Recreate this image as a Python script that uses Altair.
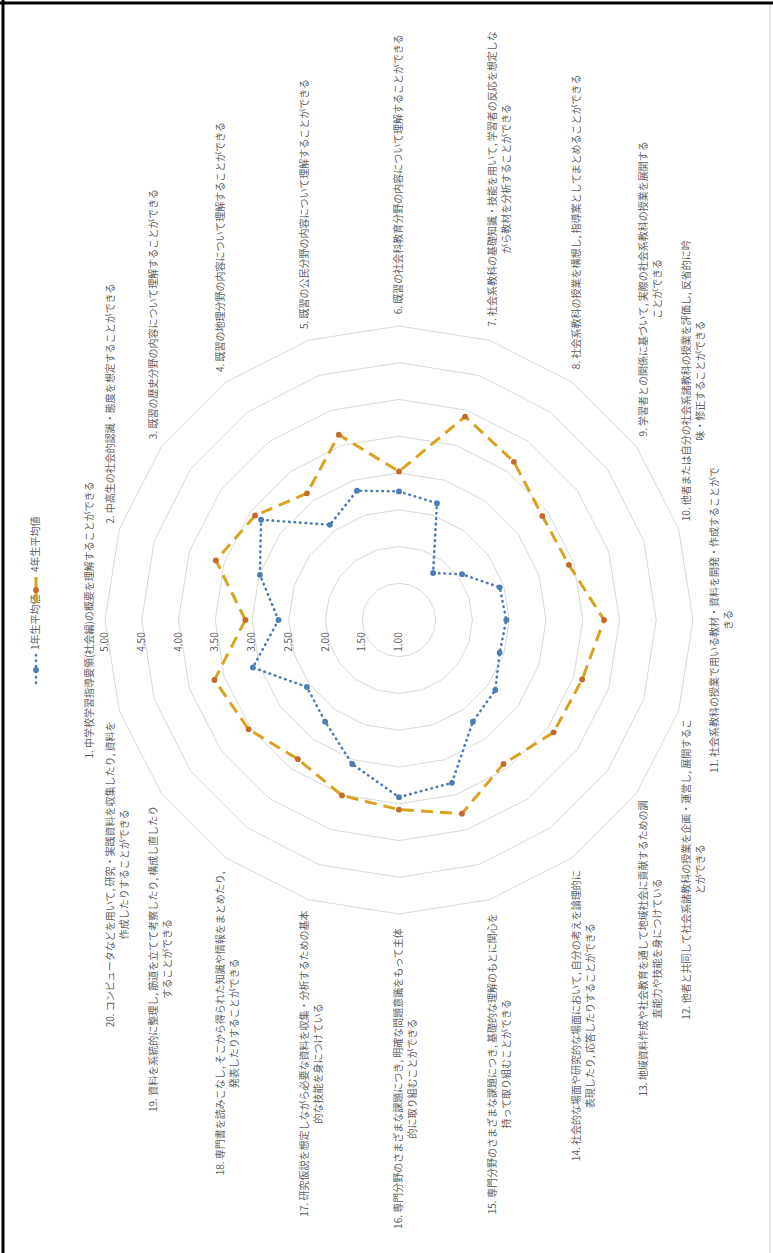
import altair as alt
import pandas as pd

# ---------------- data ----------------
item_line1 = [
    "1. 中学校学習指導要領(社会編)の概要を理解することができる",
    "2. 中高生の社会的認識・態度を想定することができる",
    "3. 既習の歴史分野の内容について理解することができる",
    "4. 既習の地理分野の内容について理解することができる",
    "5. 既習の公民分野の内容について理解することができる",
    "6. 既習の社会科教育分野の内容について理解することができる",
    "7. 社会系教科の基礎知識・技能を用いて, 学習者の反応を想定しな",
    "8. 社会系教科の授業を構想し, 指導案としてまとめることができる",
    "9. 学習者との関係に基づいて, 実際の社会系教科の授業を展開する",
    "10. 他者または自分の社会系諸教科の授業を評価し, 反省的に吟",
    "11. 社会系教科の授業で用いる教材・資料を開発・作成することがで",
    "12. 他者と共同して社会系諸教科の授業を企画・運営し, 展開するこ",
    "13. 地域資料作成や社会教育を通して地域社会に貢献するための調",
    "14. 社会的な場面や研究的な場面において, 自分の考えを論理的に",
    "15. 専門分野のさまざまな課題につき, 基礎的な理解のもとに関心を",
    "16. 専門分野のさまざまな課題につき, 明確な問題意識をもって主体",
    "17. 研究仮説を想定しながら必要な資料を収集・分析するための基本",
    "18. 専門書を読みこなし, そこから得られた知識や情報をまとめたり,",
    "19. 資料を系統的に整理し, 筋道を立てて考察したり, 構成し直したり",
    "20. コンピュータなどを用いて, 研究・実践資料を収集したり, 資料を",
]
item_line2 = [
    "", "", "", "", "", "",
    "がら教材を分析することができる",
    "",
    "ことができる",
    "味・修正することができる",
    "きる",
    "とができる",
    "査能力や技能を身につけている",
    "表現したり, 応答したりすることができる",
    "持って取り組むことができる",
    "的に取り組むことができる",
    "的な技能を身につけている",
    "発表したりすることができる",
    "することができる",
    "作成したりすることができる",
]
year1_mean = [2.64, 2.99, 3.32, 2.60, 2.85, 2.75, 2.67, 1.79, 2.06, 2.44,
              2.46, 2.44, 2.62, 2.71, 3.33, 3.41, 3.06, 2.71, 2.55, 3.09]
year4_mean = [3.09, 3.62, 3.42, 3.13, 3.65, 3.02, 3.91, 3.66, 3.41, 3.43,
              3.79, 3.62, 3.60, 3.42, 3.77, 3.58, 3.51, 3.34, 3.53, 3.64]
tick_values = [1.0, 1.5, 2.0, 2.5, 3.0, 3.5, 4.0, 4.5, 5.0]
tick_labels = ["1.00", "1.50", "2.00", "2.50", "3.00", "3.50", "4.00", "4.50", "5.00"]
series_names = ["1年生平均値", "4年生平均値"]

# ---------------- layout / style ----------------
W, H = 773, 1253
CX, CY, UNIT = 399, 620, 73.5
GAP = 9
N = len(item_line1)
FONT = "Noto Sans CJK JP"
TEXT_GRAY = "#5f5f5f"
GRID = "#d9d9d9"
BLUE = "#4F7CB3"
GOLD = "#D9A21F"
ORANGE = "#C46A2C"
RMAX = tick_values[-1] - tick_values[0]
RL = RMAX + GAP / UNIT

xs = alt.Scale(domain=[-CX / UNIT, (W - CX) / UNIT], nice=False, zero=False)
ys = alt.Scale(domain=[-(H - CY) / UNIT, CY / UNIT], nice=False, zero=False)


def xy(xf, yf):
    return dict(x=alt.X(f"{xf}:Q", scale=xs, axis=None),
                y=alt.Y(f"{yf}:Q", scale=ys, axis=None))


theta_expr = f"PI - (datum.idx - 1) * 2 * PI / {N}"

# ---------------- rings ----------------
ring_df = pd.DataFrame([{"level": lv, "idx": i + 1}
                        for lv in tick_values[1:] for i in range(N + 1)])
rings = (alt.Chart(ring_df)
         .transform_calculate(theta=theta_expr)
         .transform_calculate(px=f"(datum.level - {tick_values[0]}) * cos(datum.theta)")
         .transform_calculate(py=f"(datum.level - {tick_values[0]}) * sin(datum.theta)")
         .mark_line(color=GRID, strokeWidth=1)
         .encode(**xy("px", "py"), detail="level:N", order="idx:Q"))

# ---------------- series ----------------
rows = []
for name, vals in zip(series_names, [year1_mean, year4_mean]):
    for i, v in enumerate(vals + vals[:1]):
        rows.append({"series": name, "idx": i + 1, "value": v})
series_df = pd.DataFrame(rows)

sbase = (alt.Chart(series_df)
         .transform_calculate(theta=theta_expr)
         .transform_calculate(px=f"(datum.value - {tick_values[0]}) * cos(datum.theta)")
         .transform_calculate(py=f"(datum.value - {tick_values[0]}) * sin(datum.theta)"))

s1 = sbase.transform_filter(alt.datum.series == series_names[0])
s4 = sbase.transform_filter(alt.datum.series == series_names[1])

line1 = s1.mark_line(color=BLUE, strokeWidth=2.6, strokeDash=[0.5, 5],
                     strokeCap="round").encode(**xy("px", "py"), order="idx:Q")
pts1 = s1.transform_filter(f"datum.idx <= {N}").mark_point(
    filled=True, color=BLUE, size=34, opacity=1).encode(**xy("px", "py"))
line4 = s4.mark_line(color=GOLD, strokeWidth=3, strokeDash=[12, 7]).encode(
    **xy("px", "py"), order="idx:Q")
pts4 = s4.transform_filter(f"datum.idx <= {N}").mark_point(
    filled=True, color=ORANGE, size=34, opacity=1).encode(**xy("px", "py"))

# ---------------- category labels ----------------
label_df = pd.DataFrame({
    "idx": list(range(1, N + 1)),
    "line1": item_line1,
    "line2": item_line2,
    "label": [a + ("\n" + b if b else "") for a, b in zip(item_line1, item_line2)],
})
labels = (alt.Chart(label_df)
          .transform_calculate(theta=theta_expr)
          .transform_calculate(nasc="length(datum.line1) - length(replace(datum.line1, regexp('[ -~]', 'g'), ''))")
          .transform_calculate(tw="(length(datum.line1) - datum.nasc) * 10 + datum.nasc * 5.2")
          .transform_calculate(tt="(datum.line2 == '' ? 1 : 2) * 13")
          .transform_calculate(cxf="abs(sin(datum.theta)) < 0.01 ? (cos(datum.theta) > 0 ? 1 : -1) : 0")
          .transform_calculate(cyf="abs(sin(datum.theta)) < 0.01 ? 0 : (sin(datum.theta) > 0 ? 1 : -1)")
          .transform_calculate(lx=f"{RL} * cos(datum.theta) + datum.tt / 2 * datum.cxf / {UNIT}")
          .transform_calculate(ly=f"{RL} * sin(datum.theta) + datum.tw / 2 * datum.cyf / {UNIT}")
          .mark_text(font=FONT, fontSize=10, color=TEXT_GRAY, angle=270,
                     align="center", baseline="middle", lineBreak="\n", lineHeight=14)
          .encode(**xy("lx", "ly"), text="label:N"))

# ---------------- value tick labels ----------------
tick_df = pd.DataFrame({"value": tick_values, "label": tick_labels})
ticks = (alt.Chart(tick_df)
         .transform_calculate(tx=f"-(datum.value - {tick_values[0]})", ty="0")
         .mark_text(font=FONT, fontSize=10, color=TEXT_GRAY, angle=270,
                    align="center", baseline="middle", dx=-22)
         .encode(**xy("tx", "ty"), text="label:N"))

# ---------------- legend (rotated) ----------------
one = pd.DataFrame({"k": [0]})
LGX = 36
leg = [
    alt.Chart(one).mark_rule(color=BLUE, strokeWidth=2.6, strokeDash=[0.5, 5], strokeCap="round")
    .encode(x=alt.value(LGX), y=alt.value(655), y2=alt.value(685)),
    alt.Chart(one).mark_point(filled=True, color=BLUE, size=34, opacity=1)
    .encode(x=alt.value(LGX), y=alt.value(670)),
    alt.Chart(one).mark_text(font=FONT, fontSize=10, color=TEXT_GRAY, angle=270,
                             align="left", baseline="middle")
    .encode(x=alt.value(LGX), y=alt.value(650), text=alt.value(series_names[0])),
    alt.Chart(one).mark_rule(color=GOLD, strokeWidth=3)
    .encode(x=alt.value(LGX), y=alt.value(577), y2=alt.value(603)),
    alt.Chart(one).mark_point(filled=True, color=ORANGE, size=34, opacity=1)
    .encode(x=alt.value(LGX), y=alt.value(590)),
    alt.Chart(one).mark_text(font=FONT, fontSize=10, color=TEXT_GRAY, angle=270,
                             align="left", baseline="middle")
    .encode(x=alt.value(LGX), y=alt.value(572), text=alt.value(series_names[1])),
]

# ---------------- frame ----------------
frame = [
    alt.Chart(one).mark_rule(color="black", strokeWidth=3)
    .encode(x=alt.value(0), x2=alt.value(W), y=alt.value(3)),
    alt.Chart(one).mark_rule(color="black", strokeWidth=3)
    .encode(x=alt.value(3), y=alt.value(0), y2=alt.value(H)),
    alt.Chart(one).mark_rule(color="#cfcfcf", strokeWidth=1)
    .encode(x=alt.value(770), y=alt.value(5), y2=alt.value(H)),
]

chart = alt.layer(rings, line1, pts1, line4, pts4, labels, ticks, *leg, *frame).properties(
    width=W, height=H, padding=0, autosize=alt.AutoSizeParams(type="none"),
    background="white",
).configure_view(stroke="transparent")

chart.save("out.html", embed_options={"renderer": "svg", "actions": False})
